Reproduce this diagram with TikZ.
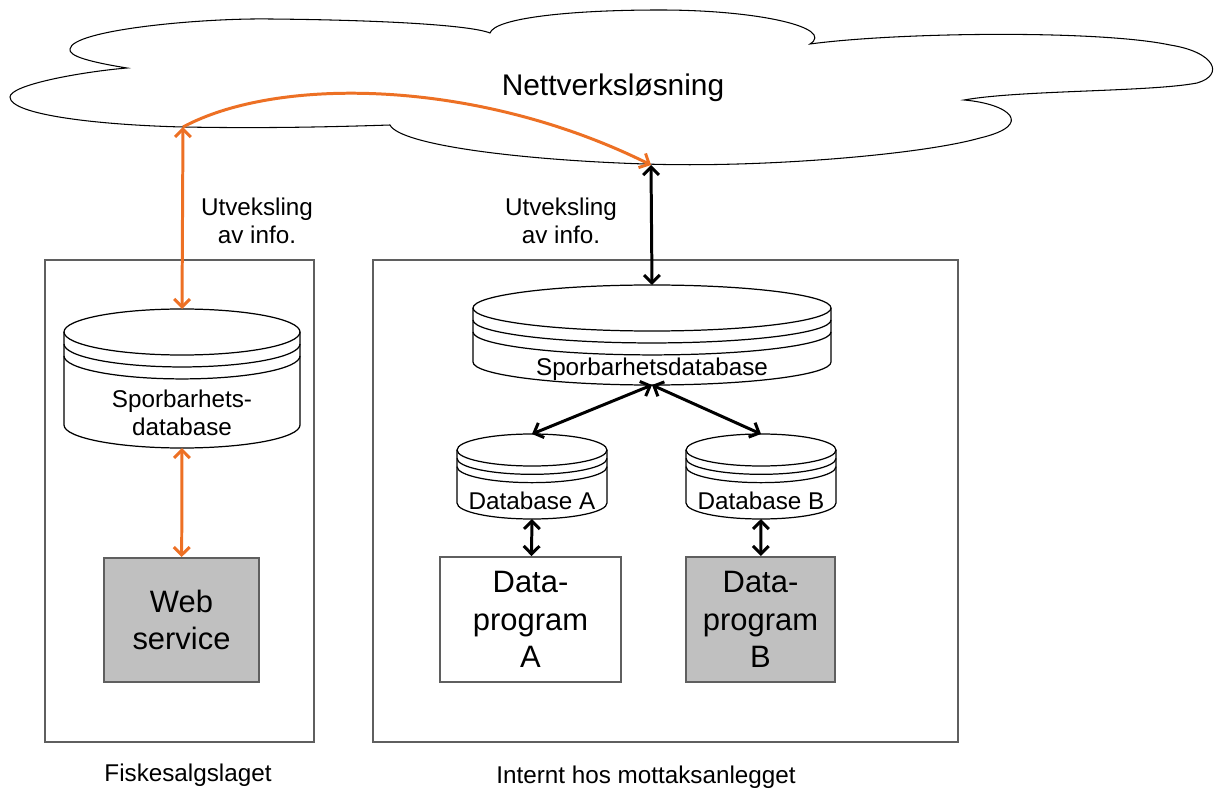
\documentclass[tikz,border=0pt]{standalone}
\usepackage{fontspec}
\setmainfont{Liberation Sans}
\usetikzlibrary{arrows.meta}

\definecolor{naranja}{RGB}{237,112,36}
\definecolor{gris}{RGB}{192,192,192}
\definecolor{borde}{RGB}{95,95,95}

% base de datos: nombre, x, y arriba, y abajo, rx, ry, texto
\newcommand{\basedatos}[7]{%
  \draw[dbline] ({#2-#5},#3) -- ({#2-#5},#4) arc[start angle=180,end angle=0,x radius=#5,y radius=#6] -- ({#2+#5},#3);
  \draw[dbline] (#2,#3) ellipse[x radius=#5,y radius=#6];
  \draw[dbline] ({#2-#5},{#3+0.52*#6}) arc[start angle=180,end angle=0,x radius=#5,y radius=#6];
  \draw[dbline] ({#2-#5},{#3+1.04*#6}) arc[start angle=180,end angle=0,x radius=#5,y radius=#6];
  \coordinate (#1n) at (#2,{#3-#6});
  \coordinate (#1s) at (#2,{#4+#6});
  \node[dbtext] (#1) at (#2,{(#3+#4)/2+1.5*#6}) {#7};
}

\tikzset{
  dbline/.style={line width=0.7pt},
  dbtext/.style={align=center, inner sep=0pt, font=\fontsize{13.8}{15.9}\selectfont},
  etiqueta/.style={align=center, inner sep=0pt, font=\fontsize{13.8}{15.9}\selectfont},
  caja/.style={draw=borde, line width=1.1pt, align=center, inner sep=0pt, font=\fontsize{17.6}{21.5}\selectfont},
  marco/.style={draw=borde, line width=0.9pt},
  punta/.tip={Straight Barb[length=4.5pt,width=9pt]},
  flecha/.style={line width=1.7pt, punta-punta},
}

\begin{document}
\begin{tikzpicture}[x=0.02cm, y=-0.02cm]
  \useasboundingbox (0,0) rectangle (1219,793);

  % Nube
  \draw[line width=0.6pt, fill=white]
    (127,68) .. controls (90,62) and (68,56) .. (70,49)
    .. controls (72,30) and (200,18) .. (270,19)
    .. controls (380,20) and (470,25) .. (490,33)
    .. controls (495,18) and (570,10) .. (660,10)
    .. controls (760,10) and (835,28) .. (810,44)
    .. controls (900,32) and (1100,30) .. (1170,45)
    .. controls (1215,52) and (1225,75) .. (1197,83)
    .. controls (1150,92) and (1020,90) .. (964,100)
    .. controls (1010,104) and (1035,125) .. (980,138)
    .. controls (920,155) and (760,168) .. (645,164)
    .. controls (520,160) and (400,145) .. (390,125)
    .. controls (300,128) and (240,128) .. (183,127)
    .. controls (100,125) and (10,115) .. (10,97)
    .. controls (10,85) and (80,72) .. (127,68) -- cycle;
  \node[font=\fontsize{17}{20}\selectfont] (nett) at (613,88) {Nettverksløsning};
  \coordinate (skyL) at (183,127);
  \coordinate (skyR) at (651,165);

  % Marcos
  \draw[marco] (45,260) rectangle (314,742);
  \draw[marco] (373,260) rectangle (958,742);
  \node[etiqueta] (fisk) at (188,775) {Fiskesalgslaget};
  \node[etiqueta] (internt) at (646,777) {Internt hos mottaksanlegget};

  % Bases de datos
  \basedatos{sporL}{182}{332}{425}{118}{23}{Sporbarhets-\\database}
  \basedatos{sporR}{652}{308}{362}{179}{23}{Sporbarhetsdatabase}
  \basedatos{dbA}{532}{450}{503}{75}{16}{Database A}
  \basedatos{dbB}{761}{450}{503}{75}{16}{Database B}

  % Cajas
  \node[caja, fill=gris, minimum width=3.10cm, minimum height=2.48cm] (web) at (181.5,620) {Web\\service};
  \node[caja, fill=white, minimum width=3.62cm, minimum height=2.50cm] (progA) at (530.5,619.5) {Data-\\program\\A};
  \node[caja, fill=gris, minimum width=2.98cm, minimum height=2.50cm] (progB) at (760.5,619.5) {Data-\\program\\B};

  % Textos
  \node[etiqueta] (utvL) at (257,221) {Utveksling\\av info.};
  \node[etiqueta] (utvR) at (561,221) {Utveksling\\av info.};

  % Flechas
  \draw[flecha, naranja] (skyL) -- (sporLn);
  \draw[flecha, naranja] (sporLs) -- (web);
  \draw[naranja, line width=1.7pt, -punta] (skyL) .. controls (280,75) and (480,80) .. (skyR);
  \draw[flecha] (skyR) -- (sporRn);
  \draw[flecha] (sporRs) -- (dbAn);
  \draw[flecha] (sporRs) -- (dbBn);
  \draw[flecha] (dbAs) -- (progA);
  \draw[flecha] (dbBs) -- (progB);
\end{tikzpicture}
\end{document}
